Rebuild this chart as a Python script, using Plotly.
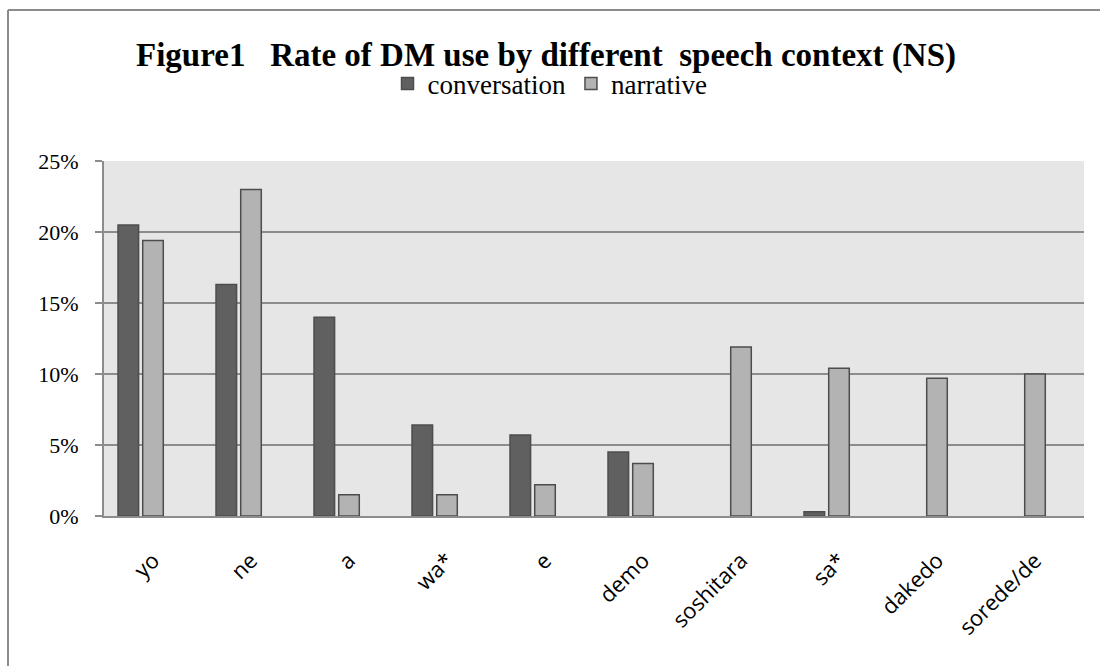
import plotly.graph_objects as go

# Discourse markers and their rate of use (%) in each speech context
markers = ["yo", "ne", "a", "wa*", "e", "demo", "soshitara", "sa*", "dakedo", "sorede/de"]
conversation = [20.5, 16.3, 14.0, 6.4, 5.7, 4.5, 0.0, 0.3, 0.0, 0.0]
narrative = [19.4, 23.0, 1.5, 1.5, 2.2, 3.7, 11.9, 10.4, 9.7, 10.0]
y_ticks = [0, 5, 10, 15, 20, 25]
y_tick_text = [f"{v}%" for v in y_ticks]

W, H = 1100, 666
ML, MR, MT, MB = 104, 16, 161, 150
PW, PH = W - ML - MR, H - MT - MB


def px_x(px):
    return (px - ML) / PW


def px_y(py):
    return (H - MB - py) / PH


GRID = "#8c8c8c"
EDGE = "#4d4d4d"
BAR_W = 0.21


def edge_widths(values):
    # no outline on empty bars
    return [1.5 if v > 0 else 0 for v in values]


fig = go.Figure()
fig.add_trace(go.Bar(
    x=markers, y=conversation, name="conversation",
    width=BAR_W, offset=-0.357,
    marker=dict(color="#606060", line=dict(color=EDGE, width=edge_widths(conversation))),
))
fig.add_trace(go.Bar(
    x=markers, y=narrative, name="narrative",
    width=BAR_W, offset=-0.105,
    marker=dict(color="#b3b3b3", line=dict(color=EDGE, width=edge_widths(narrative))),
))

sp = "\u00a0"
title_text = f"Figure1{sp*3}Rate of DM use by different{sp*2}speech context (NS)"

fig.update_layout(
    width=W, height=H,
    margin=dict(l=ML, r=MR, t=MT, b=MB, pad=0),
    paper_bgcolor="white",
    plot_bgcolor="#e6e6e6",
    barmode="group",
    title=dict(
        text=f"<b>{title_text}</b>",
        font=dict(family="Liberation Serif", size=33, color="black"),
        x=546 / W, xanchor="center", xref="container",
        y=1 - 54 / H, yanchor="middle", yref="container",
    ),
    legend=dict(
        orientation="h",
        x=550 / W, xanchor="center", xref="container",
        y=1 - 84 / H, yanchor="middle", yref="container",
        font=dict(family="Liberation Serif", size=27, color="black"),
        itemwidth=30,
        traceorder="normal",
    ),
    xaxis=dict(
        tickangle=-45,
        tickfont=dict(family="Open Sans", size=22, color="black"),
        showline=True, linecolor=GRID, linewidth=2,
        showgrid=False,
        ticks="", ticklabelstandoff=21,
        fixedrange=True,
    ),
    yaxis=dict(
        range=[0, 25],
        tickvals=y_ticks, ticktext=y_tick_text,
        tickfont=dict(family="Liberation Serif", size=22, color="black"),
        showgrid=True, gridcolor=GRID, gridwidth=2,
        showline=True, linecolor=GRID, linewidth=2,
        ticks="outside", ticklen=7, tickcolor=GRID, tickwidth=2,
        ticklabelstandoff=12,
        zeroline=False,
        fixedrange=True,
    ),
    shapes=[
        dict(type="line", xref="paper", yref="paper",
             x0=px_x(8), x1=px_x(W + 20), y0=px_y(10), y1=px_y(10),
             line=dict(color="#8c8c8c", width=2)),
        dict(type="line", xref="paper", yref="paper",
             x0=px_x(8), x1=px_x(8), y0=px_y(10), y1=px_y(H + 20),
             line=dict(color="#8c8c8c", width=2)),
    ],
)

fig.write_html("out.html")
